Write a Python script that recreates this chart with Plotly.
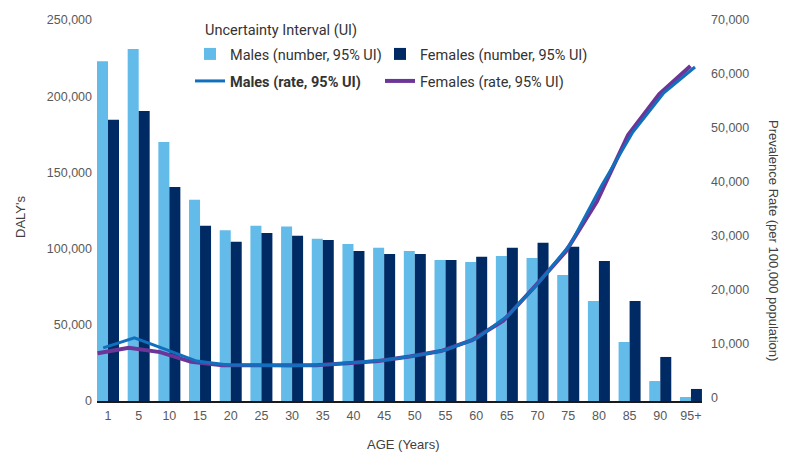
import plotly.graph_objects as go

ages = ["1", "5", "10", "15", "20", "25", "30", "35", "40", "45",
        "50", "55", "60", "65", "70", "75", "80", "85", "90", "95+"]

males_number = [223000, 231000, 170000, 132000, 112000, 115000, 114500, 106500, 103000, 100500,
                98500, 92500, 91200, 95200, 93800, 82700, 65600, 38700, 13100, 2600]
females_number = [184500, 190300, 140500, 115000, 104500, 110300, 108500, 105700, 98500, 96500,
                  96500, 92500, 94600, 100500, 103800, 101200, 91900, 65600, 28900, 7900]

males_rate = [9300, 11150, 9000, 6850, 6100, 6000, 6000, 6100, 6480, 6980,
              7830, 8890, 11100, 15300, 21500, 28500, 39300, 49200, 56500, 61300]
females_rate = [8280, 9300, 8500, 6700, 6060, 6000, 6000, 6050, 6430, 6850,
                7690, 8700, 10700, 14300, 20600, 27100, 36400, 48700, 56300, 61500]

light_blue = "#62BBE8"
navy = "#002A64"
male_line = "#1170BD"
female_line = "#6C3597"
txt = "#404040"
tick_font = dict(family="Liberation Sans, Arial, sans-serif", size=12.5, color="#595959")
leg_font = dict(family="Roboto, Arial, sans-serif", size=14.5, color="#333333")

# The page body has an 8px margin, so the figure is drawn 8px smaller and
# all reference-pixel positions are shifted by 8px.
OFF = 8
W, H = 792 - OFF, 452 - OFF
L, T = 97 - OFF, 20 - OFF
R = W - (702 - OFF)
B = H - (401 - OFF)
pw, ph = W - L - R, H - T - B


def px(xref):
    return (xref - OFF - L) / pw


def py(yref):
    return (H - B - (yref - OFF)) / ph


fig = go.Figure()
fig.add_trace(go.Bar(x=ages, y=males_number, name="Males (number, 95% UI)",
                     marker=dict(color=light_blue, line=dict(width=0)),
                     legend="legend", legendwidth=145))
fig.add_trace(go.Bar(x=ages, y=females_number, name="Females (number, 95% UI)",
                     marker=dict(color=navy, line=dict(width=0)), legend="legend"))
fig.add_trace(go.Scatter(x=ages, y=males_rate, name="<b>Males (rate, 95% UI)</b>", mode="lines",
                         line=dict(color=male_line, width=3), xaxis="x3", yaxis="y2",
                         legend="legend2", legendwidth=145))
fig.add_trace(go.Scatter(x=ages, y=females_rate, name="Females (rate, 95% UI)", mode="lines",
                         line=dict(color=female_line, width=4), xaxis="x2", yaxis="y2",
                         legend="legend2"))

fig.update_layout(
    width=W, height=H,
    margin=dict(l=L, r=R, t=T, b=B, autoexpand=False),
    paper_bgcolor="white", plot_bgcolor="white",
    barmode="group", bargap=0.283, bargroupgap=0,
    font=dict(family="Liberation Sans, Arial, sans-serif", color=txt),
    xaxis=dict(type="category", categoryorder="array", categoryarray=ages,
               range=[-0.3585, 19.36], showline=True, linecolor="#1a1a1a", linewidth=1.5,
               showgrid=False, zeroline=False, ticks="", tickfont=tick_font,
               ticklabelstandoff=2, automargin=False),
    xaxis2=dict(type="category", categoryorder="array", categoryarray=ages,
                overlaying="x", range=[-0.02, 19.37], visible=False),
    xaxis3=dict(type="category", categoryorder="array", categoryarray=ages,
                overlaying="x", range=[-0.2, 19.225], visible=False),
    yaxis=dict(range=[0, 250000], tickvals=[0, 50000, 100000, 150000, 200000, 250000],
               tickformat=",", showgrid=False, zeroline=False, showline=False,
               ticks="", tickfont=tick_font, ticklabelstandoff=4, automargin=False),
    yaxis2=dict(overlaying="y", side="right", range=[-550, 70000],
                tickvals=[0, 10000, 20000, 30000, 40000, 50000, 60000, 70000],
                tickformat=",", showgrid=False, zeroline=False, showline=False,
                ticks="", tickfont=tick_font, ticklabelstandoff=8, automargin=False),
    legend=dict(orientation="h", x=px(190), xanchor="left", y=py(54), yanchor="middle",
                font=leg_font, bgcolor="rgba(0,0,0,0)", traceorder="normal"),
    legend2=dict(orientation="h", x=px(190), xanchor="left", y=py(81), yanchor="middle",
                 font=leg_font, bgcolor="rgba(0,0,0,0)", traceorder="normal"),
    annotations=[
        dict(text="Uncertainty Interval (UI)", x=px(203), y=py(30), xref="paper", yref="paper",
             xanchor="left", yanchor="middle", showarrow=False, font=leg_font),
        dict(text="DALY's", x=px(20), y=py(217), xref="paper", yref="paper",
             xanchor="center", yanchor="middle", textangle=-90, showarrow=False,
             font=dict(family="Liberation Sans, Arial, sans-serif", size=13, color=txt)),
        dict(text="Prevalence Rate (per 100,000 population)", x=px(773), y=py(240),
             xref="paper", yref="paper", xanchor="center", yanchor="middle", textangle=90,
             showarrow=False,
             font=dict(family="Liberation Sans, Arial, sans-serif", size=13, color=txt)),
        dict(text="AGE (Years)", x=px(403), y=py(444), xref="paper", yref="paper",
             xanchor="center", yanchor="middle", showarrow=False,
             font=dict(family="Liberation Sans, Arial, sans-serif", size=13, color=txt)),
    ],
)

fig.write_html("out.html")
